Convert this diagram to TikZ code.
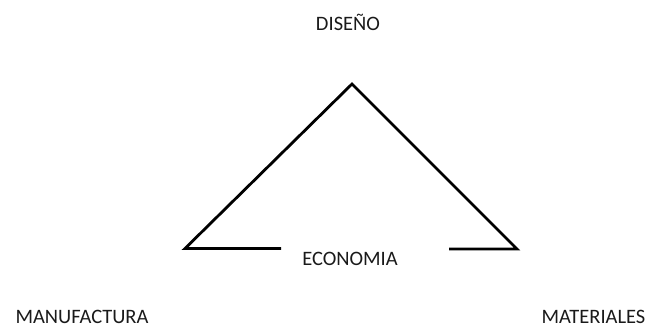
\documentclass[tikz,border=0pt]{standalone}
\usepackage{fontspec}
\setmainfont{Carlito}
\definecolor{ink}{HTML}{000000}
\definecolor{txt}{HTML}{1A1A1A}

\begin{document}
\begin{tikzpicture}[
    x=1pt, y=-1pt,
    edge/.style={draw=ink, line width=2.8pt, line join=miter},
    lbl/.style={font=\fontsize{20.5}{24}\selectfont, text=txt, anchor=base, inner sep=0pt},
]
\useasboundingbox (0,0) rectangle (650,329);

% ── Corners of the triangle ──
\coordinate (apex) at (352,84);
\coordinate (lcorner) at (185,248.5);
\coordinate (rcorner) at (517,249);
\coordinate (lgap) at (281,248.5);
\coordinate (rgap) at (449,249);

% ── Labels ──
\node[lbl] (diseno) at (348,31) {DISEÑO};
\node[lbl] (economia) at (350,265) {ECONOMIA};
\node[lbl] (manufactura) at (82,323) {MANUFACTURA};
\node[lbl] (materiales) at (593.5,323) {MATERIALES};

% ── Triangle, open at the base ──
\draw[edge] (lgap) -- (lcorner) -- (apex) -- (rcorner) -- (rgap);

\end{tikzpicture}
\end{document}
